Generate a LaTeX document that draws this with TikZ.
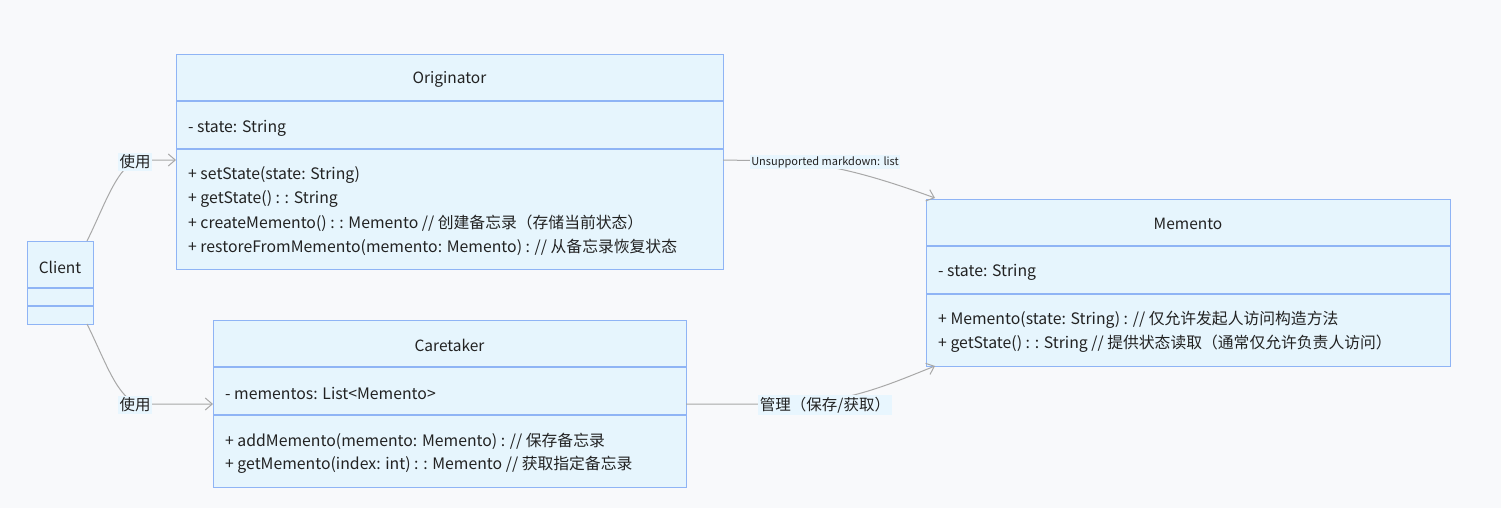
\documentclass[tikz,border=0pt]{standalone}
\usepackage{fontspec}
\setmainfont{Noto Sans CJK SC}
\usetikzlibrary{arrows.meta}
\definecolor{bgc}{HTML}{F8F9FB}
\definecolor{boxfill}{HTML}{E6F5FD}
\definecolor{boxline}{HTML}{8FB4F5}
\definecolor{edgec}{HTML}{A8A8A8}
\definecolor{lblfill}{HTML}{E8F6FE}
\definecolor{txt}{HTML}{222222}
\tikzset{
  x=1pt, y=-1pt,
  classbox/.style={draw=boxline, fill=boxfill, line width=1.2pt},
  sepline/.style={draw=boxline, line width=1.2pt},
  titletxt/.style={font=\fontsize{15.5}{18}\selectfont, text=txt, inner sep=0pt},
  membertxt/.style={font=\fontsize{15.8}{18}\selectfont, text=txt, anchor=west, inner sep=0pt},
  rel/.style={draw=edgec, line width=1pt, -{Straight Barb[length=7pt,width=12pt]}},
  lbl/.style={fill=lblfill, text=txt, inner sep=1.5pt, font=\fontsize{15.5}{18}\selectfont},
  smalllbl/.style={fill=lblfill, text=txt, inner sep=1.5pt, font=\fontsize{11}{13}\selectfont},
}
\begin{document}
\begin{tikzpicture}
\fill[bgc] (0,0) rectangle (1501,508);
\useasboundingbox (0,0) rectangle (1501,508);

% Originator
\node[classbox, minimum width=547pt, minimum height=215pt, anchor=north west, inner sep=0pt] (orig) at (176,54) {};
\draw[sepline] (176,101) -- (723,101);
\draw[sepline] (176,149) -- (723,149);
\node[titletxt] (origT) at (449.5,79) {Originator};
\node[membertxt] (origA) at (188,128) {- state: String};
\node[membertxt] (origM1) at (188,175) {+ setState(state: String)};
\node[membertxt] (origM2) at (188,199) {+ getState() : : String};
\node[membertxt] (origM3) at (188,223) {+ createMemento() : : Memento // 创建备忘录（存储当前状态）};
\node[membertxt] (origM4) at (188,247) {+ restoreFromMemento(memento: Memento) : // 从备忘录恢复状态};

% Client
\node[classbox, minimum width=66pt, minimum height=83pt, anchor=north west, inner sep=0pt] (client) at (27,241) {};
\draw[sepline] (27,288) -- (93,288);
\draw[sepline] (27,306) -- (93,306);
\node[titletxt] (clientT) at (60,267) {Client};

% Caretaker
\node[classbox, minimum width=473pt, minimum height=167pt, anchor=north west, inner sep=0pt] (care) at (213,320) {};
\draw[sepline] (213,367) -- (686,367);
\draw[sepline] (213,415) -- (686,415);
\node[titletxt] (careT) at (449.5,345) {Caretaker};
\node[membertxt] (careA) at (225,393) {- mementos: List<Memento>};
\node[membertxt] (careM1) at (225,441) {+ addMemento(memento: Memento) : // 保存备忘录};
\node[membertxt] (careM2) at (225,465) {+ getMemento(index: int) : : Memento // 获取指定备忘录};

% Memento
\node[classbox, minimum width=524pt, minimum height=167pt, anchor=north west, inner sep=0pt] (mem) at (926,199) {};
\draw[sepline] (926,246) -- (1450,246);
\draw[sepline] (926,294) -- (1450,294);
\node[titletxt] (memT) at (1188,224) {Memento};
\node[membertxt] (memA) at (938,272) {- state: String};
\node[membertxt] (memM1) at (938,320) {+ Memento(state: String) : // 仅允许发起人访问构造方法};
\node[membertxt] (memM2) at (938,344) {+ getState() : : String // 提供状态读取（通常仅允许负责人访问）};

% connector end points
\coordinate (c1s) at (87,241);
\coordinate (c1e) at (176,160);
\coordinate (c2s) at (87,324);
\coordinate (c2e) at (213,404);
\coordinate (o1s) at (723,160);
\coordinate (o1e) at (935,198);
\coordinate (k1s) at (686,404);
\coordinate (k1e) at (935,366);

% edges
\draw[rel] (c1s) .. controls (105,205) and (118,163) .. (140,160) -- (c1e);
\draw[rel] (c2s) .. controls (105,360) and (118,401) .. (140,404) -- (c2e);
\draw[rel] (o1s) -- (780,161) .. controls (830,163) and (880,178) .. (o1e);
\draw[rel] (k1s) -- (790,404) .. controls (850,402) and (890,384) .. (k1e);

% edge labels
\node[lbl] (l1) at (135,162) {使用};
\node[lbl] (l2) at (135,405) {使用};
\node[smalllbl] (l3) at (825,162) {Unsupported markdown: list};
\node[lbl] (l4) at (825,405) {管理（保存/获取）};
\end{tikzpicture}
\end{document}
